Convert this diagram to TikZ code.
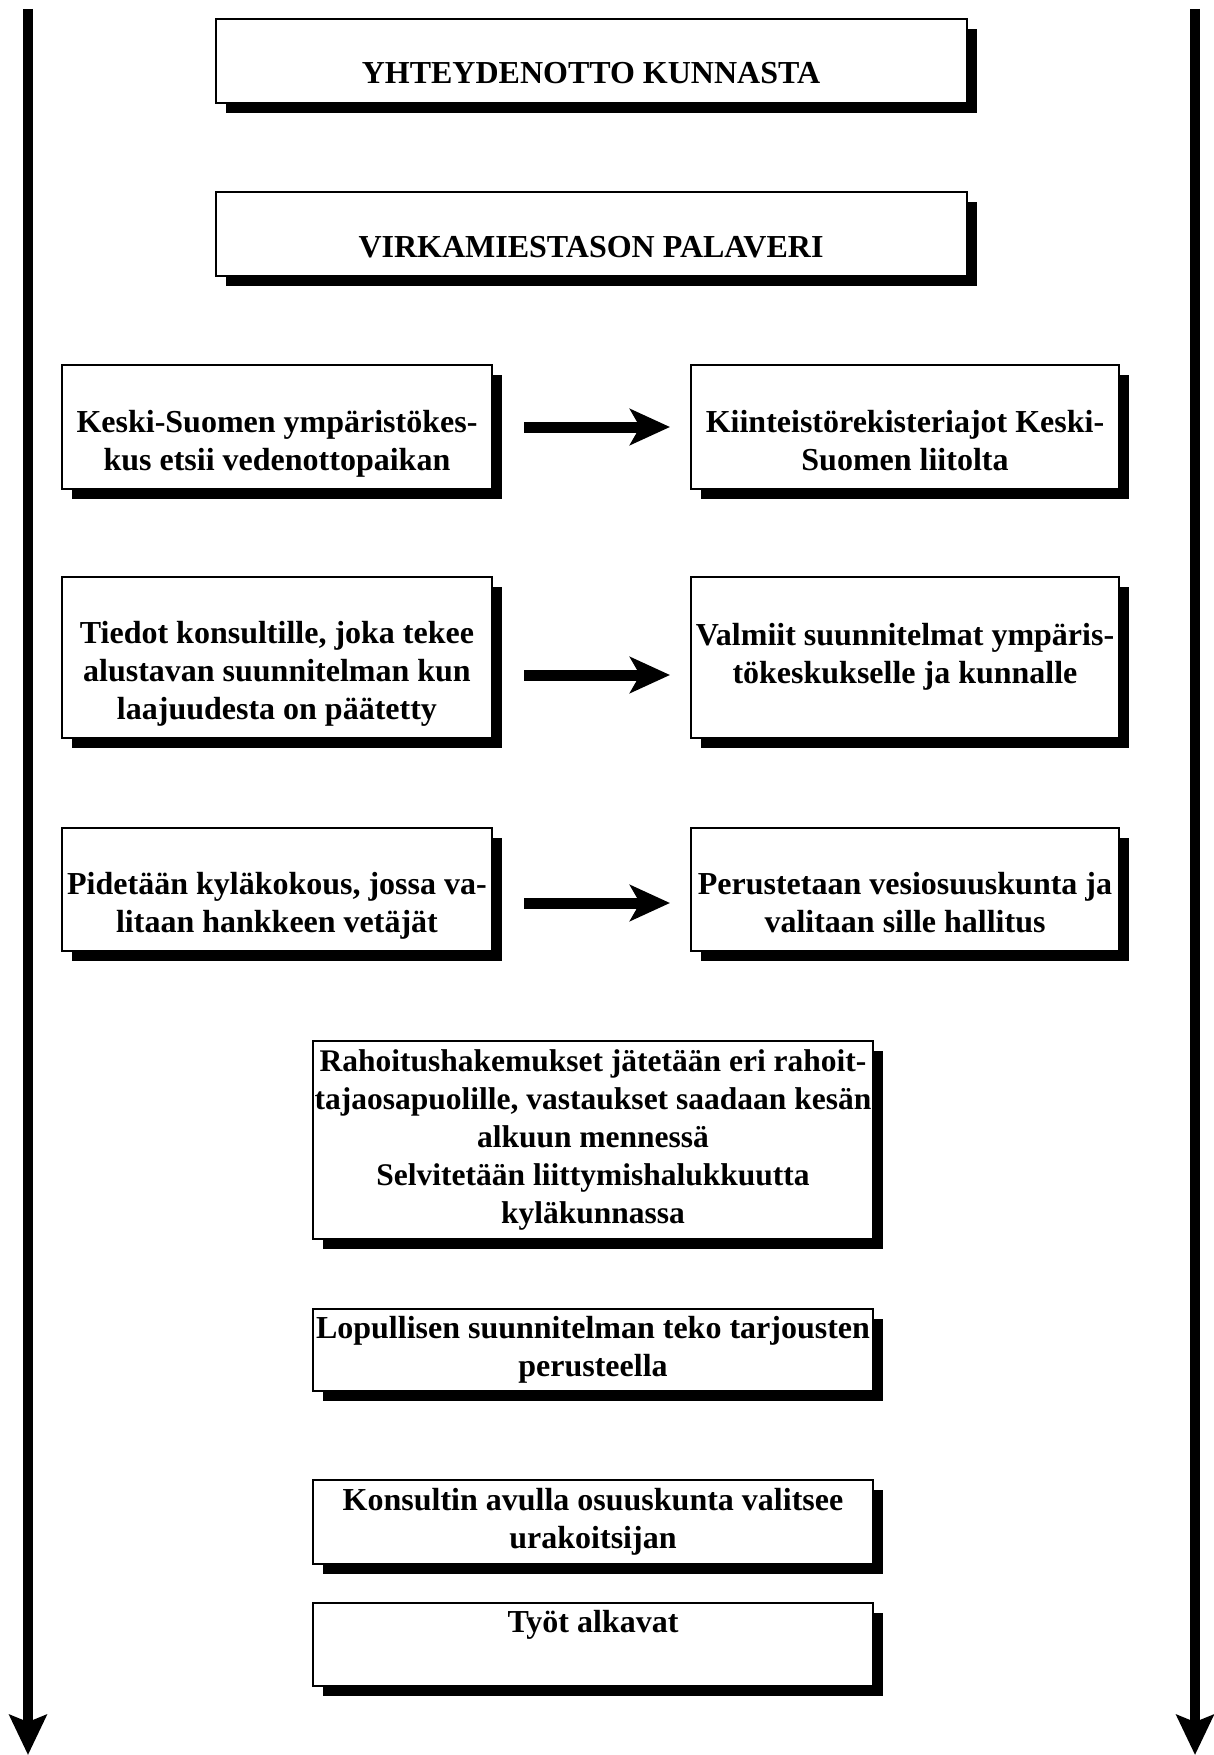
\documentclass[tikz,border=0pt]{standalone}
\usepackage{fontspec}
\setmainfont{Liberation Serif}
\usepackage{tikz}
\usetikzlibrary{arrows.meta,shadows}
\newcommand{\sunk}[2]{\raisebox{-#1}[\height][\depth]{\begin{tabular}{@{}c@{}}#2\end{tabular}}}

\begin{document}
\begin{tikzpicture}[x=1pt, y=-1pt,
	stage/.style={draw, line width=2pt, fill=white, align=center, inner sep=2pt,
		font=\fontsize{32}{38}\selectfont\bfseries,
		drop shadow={shadow xshift=10pt, shadow yshift=-10pt, opacity=1, fill=black}},
	flow/.style={line width=11pt, -{Stealth[length=40pt, width=36pt, inset=10pt]},
		shorten <=31pt, shorten >=20pt},
	side/.style={line width=10pt, -{Stealth[length=40pt, width=37pt, inset=7pt]}}]

	\useasboundingbox (0,0) rectangle (1214,1755);

	\node [stage, minimum width=751pt, minimum height=84pt] (yht) at (591,61) {\sunk{15pt}{YHTEYDENOTTO KUNNASTA}};
	\node [stage, minimum width=751pt, minimum height=84pt] (palaveri) at (591,234) {\sunk{16pt}{VIRKAMIESTASON PALAVERI}};

	\node [stage, minimum width=430pt, minimum height=124pt] (keski) at (277,427)
		{\sunk{17pt}{Keski-Suomen ympäristökes-\\kus etsii vedenottopaikan}};
	\node [stage, minimum width=428pt, minimum height=124pt] (kiint) at (905,427)
		{\sunk{17pt}{Kiinteistörekisteriajot Keski-\\Suomen liitolta}};

	\node [stage, minimum width=430pt, minimum height=161pt] (tiedot) at (277,657)
		{\sunk{17pt}{Tiedot konsultille, joka tekee\\alustavan suunnitelman kun\\laajuudesta on päätetty}};
	\node [stage, minimum width=428pt, minimum height=161pt] (valmiit) at (905,657)
		{Valmiit suunnitelmat ympäris-\\tökeskukselle ja kunnalle};

	\node [stage, minimum width=430pt, minimum height=123pt] (kyla) at (277,889)
		{\sunk{17pt}{Pidetään kyläkokous, jossa va-\\litaan hankkeen vetäjät}};
	\node [stage, minimum width=428pt, minimum height=123pt] (osuus) at (905,889)
		{\sunk{17pt}{Perustetaan vesiosuuskunta ja\\valitaan sille hallitus}};

	\node [stage, minimum width=560pt, minimum height=198pt, inner sep=0pt,
		font=\fontsize{31.5}{38}\selectfont\bfseries] (rahoitus) at (593,1140)
		{Rahoitushakemukset jätetään eri rahoit-\\tajaosapuolille, vastaukset saadaan kesän\\alkuun mennessä\\Selvitetään liittymishalukkuutta\\kyläkunnassa};
	\node [stage, minimum width=560pt, minimum height=82pt] (lopullinen) at (593,1350)
		{Lopullisen suunnitelman teko tarjousten\\perusteella};
	\node [stage, minimum width=560pt, minimum height=84pt] (urakoitsija) at (593,1522)
		{Konsultin avulla osuuskunta valitsee\\urakoitsijan};
	\node [stage, minimum width=560pt, minimum height=83pt, text depth=45pt] (tyot) at (593,1644)
		{Työt alkavat};

	\draw [flow] (keski.east) -- (kiint.west);
	\draw [flow] ([yshift=-18pt]tiedot.east) -- ([yshift=-18pt]valmiit.west);
	\draw [flow] ([yshift=-14pt]kyla.east) -- ([yshift=-14pt]osuus.west);

	\coordinate (ltop) at (28,9);
	\coordinate (lbot) at (28,1755);
	\coordinate (rtop) at (1195,9);
	\coordinate (rbot) at (1195,1755);
	\draw [side] (ltop) -- (lbot);
	\draw [side] (rtop) -- (rbot);
\end{tikzpicture}
\end{document}
